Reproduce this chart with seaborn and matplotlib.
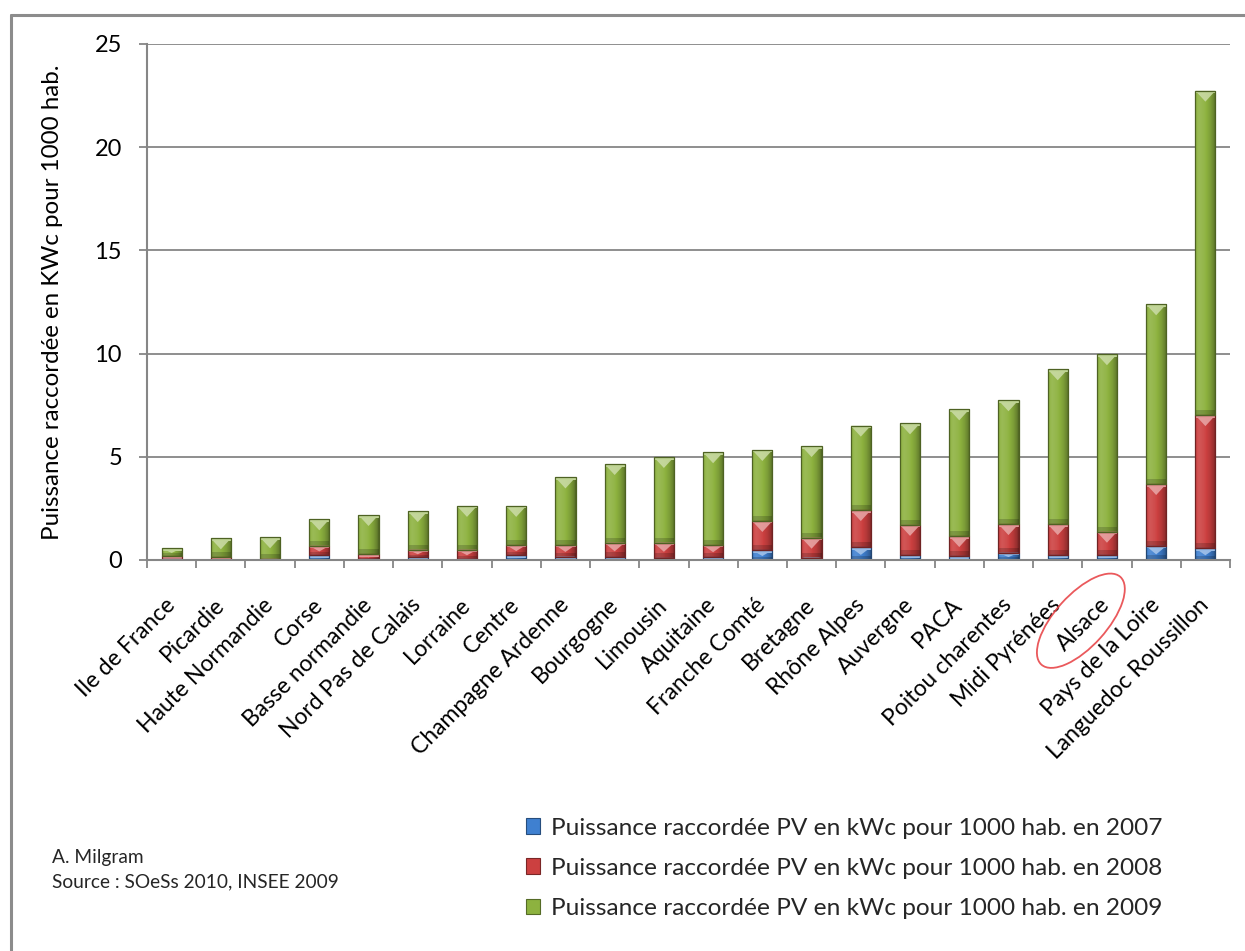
import numpy as np
import pandas as pd
import matplotlib
matplotlib.use("Agg")
import matplotlib.pyplot as plt
import matplotlib.colors as mcolors
import seaborn as sns
from matplotlib.patches import Ellipse, Polygon, Rectangle
from matplotlib.lines import Line2D
from matplotlib.transforms import IdentityTransform

# ---- data: connected PV power per 1000 inhabitants (kWc), added each year ----
regions = [
    "Ile de France", "Picardie", "Haute Normandie", "Corse", "Basse normandie",
    "Nord Pas de Calais", "Lorraine", "Centre", "Champagne Ardenne", "Bourgogne",
    "Limousin", "Aquitaine", "Franche Comté", "Bretagne", "Rhône Alpes",
    "Auvergne", "PACA", "Poitou charentes", "Midi Pyrénées", "Alsace",
    "Pays de la Loire", "Languedoc Roussillon",
]
pv_2007 = [0.03, 0.02, 0.01, 0.23, 0.03, 0.13, 0.05, 0.23, 0.16, 0.14, 0.10,
           0.14, 0.48, 0.12, 0.62, 0.24, 0.19, 0.35, 0.24, 0.24, 0.68, 0.57]
pv_2008 = [0.16, 0.11, 0.05, 0.46, 0.25, 0.37, 0.45, 0.50, 0.57, 0.70, 0.74,
           0.59, 1.41, 0.96, 1.80, 1.46, 0.97, 1.39, 1.50, 1.13, 3.00, 6.45]
pv_2009 = [0.38, 0.92, 1.04, 1.28, 1.90, 1.87, 2.12, 1.89, 3.27, 3.81, 4.15,
           4.49, 3.44, 4.44, 4.09, 4.92, 6.14, 6.00, 7.50, 8.60, 8.71, 15.72]
series_labels = [
    "Puissance raccordée PV en kWc pour 1000 hab. en 2007",
    "Puissance raccordée PV en kWc pour 1000 hab. en 2008",
    "Puissance raccordée PV en kWc pour 1000 hab. en 2009",
]
y_ticks = [0, 5, 10, 15, 20, 25]
y_label = "Puissance raccordée en KWc pour 1000 hab."
credits = ["A. Milgram", "Source : SOeSs 2010, INSEE 2009"]
highlight = "Alsace"

# ---- styling ----
sns.set_theme(style="white")
plt.rcParams["font.family"] = ["Lato", "DejaVu Sans"]
GREY = "#868686"
FONT = 16.5
palette = {"2007": "#3f80d0", "2008": "#cc4040", "2009": "#8db23f"}

W, H = 1245, 951
fig = plt.figure(figsize=(W / 100, H / 100), dpi=100)
fig.patch.set_facecolor("white")
ax = fig.add_axes([147 / W, 1 - 560 / H, (1230 - 147) / W, 516 / H])

df = pd.DataFrame({"region": regions, "2007": pv_2007, "2008": pv_2008, "2009": pv_2009})
df["top2007"] = df["2007"]
df["top2008"] = df["top2007"] + df["2008"]
df["top2009"] = df["top2008"] + df["2009"]

ax.set_axisbelow(True)
ax.yaxis.grid(True, color=GREY, linewidth=1.3)

# cumulative bars, tallest first so that each year's band sits on the previous one
years = ["2009", "2008", "2007"]
containers = {}
for yr in years:
    n_before = len(ax.patches)
    sns.barplot(data=df, x="region", y="top" + yr, order=regions, color=palette[yr],
                saturation=1, width=0.41, ax=ax, zorder=3, linewidth=0)
    containers[yr] = ax.patches[n_before:]

# turn overlapping cumulative bars into true stacked segments
for i in range(len(regions)):
    base = 0.0
    for yr in ["2007", "2008", "2009"]:
        p = containers[yr][i]
        top = df.loc[i, "top" + yr]
        p.set_y(base)
        p.set_height(top - base)
        base = top

ax.set_ylim(0, 25)
fig.canvas.draw()
px_per_unit = ax.transData.transform((0, 1))[1] - ax.transData.transform((0, 0))[1]


def shade(col, f):
    r, g, b = mcolors.to_rgb(col)
    if f >= 1:
        return (r + (1 - r) * (f - 1), g + (1 - g) * (f - 1), b + (1 - b) * (f - 1))
    return (r * f, g * f, b * f)


# bevelled look: horizontal gradient, light cap at the top, darker foot
profile_u = np.linspace(0, 1, 64)
profile_f = np.interp(profile_u, [0, 0.06, 0.2, 0.45, 0.75, 0.92, 1.0],
                      [0.80, 1.05, 1.12, 1.05, 0.88, 0.72, 0.55])
for yr in ["2007", "2008", "2009"]:
    base_col = palette[yr]
    grad = np.array([[shade(base_col, f) for f in profile_f]])
    for p in containers[yr]:
        x0, y0 = p.get_x(), p.get_y()
        w, h = p.get_width(), p.get_height()
        if h <= 0:
            continue
        img = ax.imshow(grad, extent=(x0, x0 + w, y0, y0 + h), aspect="auto",
                        interpolation="bilinear", zorder=3.1)
        img.set_clip_path(p)
        hp = h * px_per_unit
        # dark foot
        foot = min(5, hp * 0.35) / px_per_unit
        ax.add_patch(Rectangle((x0, y0), w, foot, facecolor="black", alpha=0.18,
                               linewidth=0, zorder=3.2))
        # light cap
        d = min(11, hp * 0.6) / px_per_unit
        top = y0 + h
        ax.add_patch(Polygon([(x0, top), (x0 + w, top), (x0 + w / 2, top - d)],
                             closed=True, facecolor=shade(base_col, 1.55),
                             alpha=0.85, linewidth=0, zorder=3.3))
        ax.add_patch(Rectangle((x0, top - min(2.5, hp) / px_per_unit), w,
                               min(2.5, hp) / px_per_unit,
                               facecolor=shade(base_col, 1.45), linewidth=0, zorder=3.3))
        # outline
        ax.add_patch(Rectangle((x0, y0), w, h, fill=False,
                               edgecolor=shade(base_col, 0.55), linewidth=0.9, zorder=3.4))

# axes
for s in ["top", "right"]:
    ax.spines[s].set_visible(False)
for s in ["left", "bottom"]:
    ax.spines[s].set_color(GREY)
    ax.spines[s].set_linewidth(1.5)
    ax.spines[s].set_zorder(4)

ax.set_yticks(y_ticks)
ax.set_yticklabels([str(t) for t in y_ticks])
ax.tick_params(axis="y", direction="out", length=6, width=1.3, color=GREY,
               pad=12, labelsize=17, labelcolor="black", left=True)
ax.set_xticks(range(len(regions)))
ax.set_xticklabels(regions, rotation=45, ha="right", va="center",
                   rotation_mode="anchor", fontsize=FONT)
ax.tick_params(axis="x", which="major", length=0, pad=30, labelcolor="black")
ax.set_xticks(np.arange(-0.5, len(regions), 1), minor=True)
ax.tick_params(axis="x", which="minor", direction="out", length=6, width=1.3,
               color=GREY, bottom=True)
ax.set_xlim(-0.5, len(regions) - 0.5)
ax.set_xlabel("")
ax.set_ylabel(y_label, fontsize=17.4, color="black")
ax.yaxis.set_label_coords((63 - 147) / 1083, 0.5)

# highlight ring around one category label
hx = regions.index(highlight)
lbl = ax.get_xticklabels()[hx]
bb = lbl.get_window_extent(renderer=fig.canvas.get_renderer())
cx, cy = (bb.x0 + bb.x1) / 2, (bb.y0 + bb.y1) / 2
fig.patches.append(Ellipse((cx - 3, cy + 4), 118, 52, angle=48, transform=IdentityTransform(),
                           fill=False, edgecolor="#e8474a", linewidth=1.3, alpha=0.9))

# legend
handles = [Rectangle((0, 0), 1, 1, facecolor=palette[y], edgecolor=shade(palette[y], 0.6),
                     linewidth=0.8) for y in ["2007", "2008", "2009"]]
fig.legend(handles, series_labels, loc="upper left",
           bbox_to_anchor=(516 / W, 1 - 808 / H), frameon=False, fontsize=17.6,
           handlelength=0.6, handleheight=0.6, handletextpad=0.42,
           labelspacing=0.78, borderaxespad=0)

# credits
fig.text(52 / W, 1 - 858 / H, credits[0], fontsize=13.8, va="center", ha="left")
fig.text(52 / W, 1 - 882 / H, credits[1], fontsize=13.8, va="center", ha="left")

# chart frame
fig.add_artist(Line2D([11 / W, 1.0], [1 - 15 / H, 1 - 15 / H], color="#8c8c8c",
                      linewidth=2.2, transform=fig.transFigure))
fig.add_artist(Line2D([11 / W, 11 / W], [1 - 15 / H, 0], color="#8c8c8c",
                      linewidth=2.2, transform=fig.transFigure))

fig.savefig("out.png", dpi=100, facecolor="white")
